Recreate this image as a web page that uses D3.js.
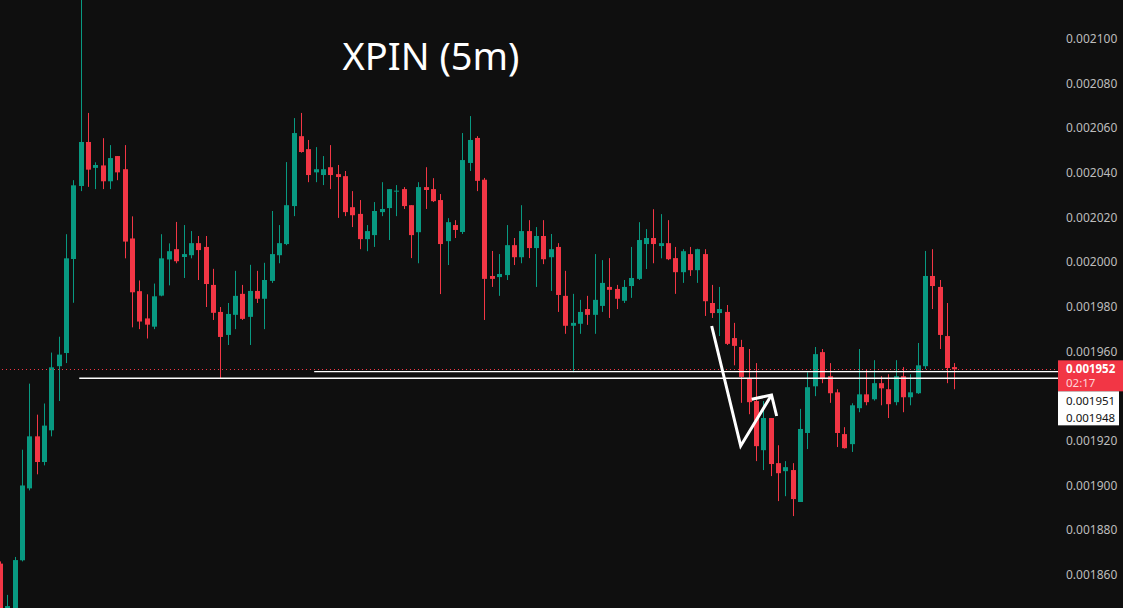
<!DOCTYPE html>
<html>
<head>
<meta charset="utf-8">
<script src="https://cdn.jsdelivr.net/npm/d3@7"></script>
<style>
  html, body { margin: 0; padding: 0; background: #0f0f0f; }
  svg { display: block; }
</style>
</head>
<body>
<svg id="chart" width="1123" height="608"></svg>
<script>
// ── XPIN 5m candles ─────────────────────────────────────────────────────
// prices kept in millionths (1952 → 0.001952)
const opens = [
  1865, 1840, 1843, 1866.5, 1898.7, 1922, 1910.5, 1924.7, 1953.4, 1959.3,
  2001.4, 2034.1, 2053.8, 2042.2, 2043.3, 2036.2, 2047.5, 2041.6, 2010.6, 1987,
  1974.8, 1971.1, 1985, 2001.2, 2005.8, 2002.3, 2003.1, 2008.5, 2006.8, 1989.8,
  1977.7, 1967.4, 1976.4, 1985.8, 1975.5, 1987.1, 1983.6, 1991.6, 2003.1, 2008.1,
  2025.1, 2056.4, 2050.6, 2040.2, 2039, 2042.5, 2039.4, 2038.5, 2024.6, 2021.6,
  2010.3, 2012.1, 2022.4, 2024.2, 2031.6, 2032.7, 2025.5, 2013.4, 2033.6, 2032.7,
  2027.8, 2009.4, 2016.6, 2013.5, 2044.4, 2055.6, 2036.9, 1993.8, 1993.3, 1994.2,
  2007.6, 2002.2, 2013.9, 2006.3, 2011.7, 2002.2, 2006.8, 1984.9, 1971.5, 1972.4,
  1979, 1976.4, 1980.4, 1988.9, 1988, 1982.7, 1989.3, 1992.5, 2008.1, 2010.8,
  2007.2, 2008.5, 2001.8, 1995.5, 2003.6, 1996.4, 2003.6, 1981.7, 1977.2, 1977.7,
  1966, 1962, 1948, 1937.8, 1915.8, 1930.2, 1910, 1906.4, 1906.9, 1892.6,
  1923.5, 1944.4, 1959.7, 1948.9, 1941.7, 1923, 1918.5, 1934.6, 1940.8, 1938.6,
  1945.8, 1943.1, 1937.3, 1948.9, 1939.5, 1941.3, 1953.4, 1993.8, 1988.9, 1966.9,
  1953
];
const highs = [
  1866, 1851, 1868, 1916, 1945.6, 1931.7, 1936.7, 1959.5, 1966.6, 2012.5,
  2036.7, 2118, 2066.8, 2044.7, 2055.5, 2052.4, 2047.5, 2052.4, 2020.5, 1991.8,
  1985.6, 1990.4, 2012.5, 2008.4, 2018, 2016.6, 2013.9, 2011.7, 2011.7, 1997,
  1979.9, 1981.7, 1996.1, 1989.8, 1998.8, 1996.1, 1999.7, 2022.9, 2016.6, 2044.8,
  2064.5, 2066.8, 2054.7, 2051.5, 2047.5, 2052.4, 2043.5, 2040.8, 2031.8, 2027.8,
  2016.6, 2026.9, 2035.8, 2032.7, 2034.5, 2033.6, 2025.5, 2035.8, 2042.5, 2037.6,
  2030.5, 2019.7, 2018.8, 2057.8, 2065.4, 2056.4, 2037.7, 2005, 2003.6, 2016.6,
  2010.8, 2025.5, 2018.8, 2015.7, 2018.8, 2012.6, 2008.5, 1996.1, 1985.8, 1983.1,
  1984.9, 2003.6, 2000.9, 2001.8, 1989.8, 1992, 2006.8, 2017.9, 2014.8, 2023.7,
  2021.5, 2018.8, 2006.8, 2005.8, 2006.8, 2006, 2005.8, 1989.8, 1988.9, 1980.8,
  1972.8, 1965.2, 1961.1, 1954.8, 1937.8, 1930.2, 1918, 1910.9, 1910, 1934.3,
  1950.7, 1962, 1961.1, 1954.8, 1943.1, 1926.1, 1936.8, 1961.1, 1952.1, 1956.1,
  1948.9, 1949.8, 1956.1, 1953, 1949.8, 1963.8, 2005, 2005.8, 1992, 1981.7,
  1954.8
];
const lows = [
  1835, 1836, 1841, 1866, 1897.8, 1905, 1909, 1922, 1937.8, 1954.8,
  1981.8, 2031.8, 2033.7, 2032.7, 2032.7, 2032.7, 2036.7, 2001.7, 1970.8, 1970,
  1965.8, 1970, 1984.7, 1989.6, 1999.5, 1992.9, 2001.7, 1992, 1979.9, 1974.1,
  1948, 1962.9, 1970, 1974.1, 1962.9, 1981.7, 1970, 1990.7, 1999.5, 2007.6,
  2020.6, 2049, 2035.8, 2035.8, 2034.5, 2032.7, 2019.8, 2020.6, 2015.7, 2005.8,
  2004.9, 2006.8, 2020.6, 2009.9, 2020.6, 2023.8, 2001.8, 1999.5, 2023.8, 2026.9,
  1985.7, 1998.7, 2010.8, 2012.6, 2040.8, 2031.8, 1974.1, 1988.9, 1984.9, 1992,
  1998.7, 1999.5, 2001.8, 1988.9, 1999.1, 1987.1, 1977.7, 1967.9, 1950.7, 1967.9,
  1971.9, 1967.9, 1977.7, 1975, 1979, 1981.7, 1984, 1992, 1996.9, 1999.5,
  2001.7, 2000.9, 1985.8, 1990.7, 1993.8, 1990.7, 1975.9, 1975, 1966.9, 1962.9,
  1953.8, 1937, 1931.9, 1910.9, 1906.9, 1904.2, 1893, 1895.2, 1886.3, 1892.6,
  1916.3, 1940, 1945.8, 1937, 1917.2, 1916.5, 1915, 1932.8, 1935.9, 1938,
  1935.9, 1930.2, 1935.9, 1932.8, 1935.9, 1941, 1952.1, 1979, 1961.1, 1945.8,
  1943.1
];
const closes = [
  1838, 1846, 1866.6, 1900, 1922, 1910.5, 1926.8, 1952.9, 1958.6, 2001.7,
  2034.4, 2053.8, 2041.4, 2043.5, 2036.2, 2046.6, 2040.2, 2009.2, 1986.5, 1973.4,
  1972, 1984.7, 2001.7, 2004.9, 2000.4, 2003.6, 2008.5, 2005.4, 1990.2, 1977.3,
  1966.5, 1976.8, 1984.9, 1974.6, 1987.1, 1983.6, 1992, 2003.6, 2008.5, 2025.5,
  2057.8, 2049.3, 2039, 2041.6, 2041.6, 2039, 2038.1, 2022.4, 2021, 2010.3,
  2013.9, 2022.9, 2023.8, 2032.7, 2032, 2025.1, 2012.1, 2033.6, 2032.3, 2027.3,
  2008.1, 2017.9, 2014.4, 2045.7, 2054.7, 2036.4, 1992.5, 1992.5, 1994.7, 2007.6,
  2002.2, 2013.9, 2006.3, 2011.7, 2001.3, 2005.8, 1985.3, 1971.5, 1972.8, 1977.7,
  1976.4, 1983.1, 1990.7, 1987.6, 1983.6, 1988.9, 1992.9, 2009.9, 2010.8, 2008.1,
  2008.5, 2001.3, 1995.5, 2004.9, 1996.4, 2005.8, 1982.5, 1977.2, 1979, 1963.4,
  1962.5, 1948.6, 1937.3, 1917.6, 1930.2, 1909.6, 1905.5, 1908.2, 1893.9, 1925.3,
  1944, 1958.8, 1947.6, 1941.3, 1923.5, 1916.7, 1935.9, 1940.8, 1937.3, 1945.8,
  1943.5, 1936.4, 1948.9, 1939.5, 1941.7, 1953.8, 1993.8, 1989.3, 1967.4, 1952.6,
  1952
];

const priceTicks = [2100, 2080, 2060, 2040, 2020, 2000, 1980, 1960, 1920, 1900, 1880, 1860];

// horizontal levels drawn on the chart: [price, first bar index]
const levels = [[1951, 42.8], [1948, 10.8]];
const lastPrice = 1952;
const countdown = '02:17';

// hand-drawn arrow, [bar index, price]
const arrowPath = [[96.95, 1971.4], [100.9, 1917.7], [105.1, 1940.5]];
const arrowHead = [[102.4, 1938.6], [105.1, 1940.5], [105.8, 1931.1]];

const title = 'XPIN (5m)';

// ── setup ───────────────────────────────────────────────────────────────
const W = 1123, H = 608;
const AXIS_X = 1058;
const UP = '#089981', DOWN = '#f23645';
const fmt = v => (v / 1e6).toFixed(6);
const FONT = '"Noto Sans", sans-serif';

const svg = d3.select('#chart');
svg.append('rect').attr('width', W).attr('height', H).attr('fill', '#0f0f0f');

const x = d3.scaleLinear().domain([0, 130]).range([0, 954.3]);
const y = d3.scaleLinear().domain([1860, 2100]).range([574.8, 38.8]);

const bars = opens.map((o, i) => ({ i, o, h: highs[i], l: lows[i], c: closes[i] }));

const plot = svg.append('g');

// title
plot.append('text')
  .attr('x', 431).attr('y', 70)
  .attr('text-anchor', 'middle')
  .attr('font-family', '"Noto Sans", "Open Sans", sans-serif')
  .attr('font-size', 38)
  .attr('fill', '#ffffff')
  .text(title);

// candles
const candle = plot.selectAll('g.candle')
  .data(bars)
  .join('g')
    .attr('class', 'candle')
    .attr('fill', d => d.c >= d.o ? UP : DOWN)
    .attr('stroke', d => d.c >= d.o ? UP : DOWN);

candle.append('line')
  .attr('x1', d => Math.round(x(d.i)) + 0.5)
  .attr('x2', d => Math.round(x(d.i)) + 0.5)
  .attr('y1', d => y(d.h))
  .attr('y2', d => y(d.l))
  .attr('stroke-width', 1);

candle.append('rect')
  .attr('stroke', 'none')
  .attr('x', d => Math.round(x(d.i)) - 2)
  .attr('width', 5)
  .attr('y', d => y(Math.max(d.o, d.c)))
  .attr('height', d => Math.max(1, y(Math.min(d.o, d.c)) - y(Math.max(d.o, d.c))));

// last price dotted line
plot.append('line')
  .attr('x1', 2).attr('x2', AXIS_X)
  .attr('y1', Math.round(y(lastPrice)) + 0.5).attr('y2', Math.round(y(lastPrice)) + 0.5)
  .attr('stroke', DOWN)
  .attr('stroke-width', 1)
  .attr('stroke-dasharray', '1,3');

// white horizontal levels
plot.selectAll('line.level')
  .data(levels)
  .join('line')
    .attr('class', 'level')
    .attr('x1', d => x(d[1])).attr('x2', AXIS_X)
    .attr('y1', d => y(d[0])).attr('y2', d => y(d[0]))
    .attr('stroke', '#ffffff')
    .attr('stroke-width', 1.3);

// arrow annotation
const ln = d3.line().x(d => x(d[0])).y(d => y(d[1]));
[arrowPath, arrowHead].forEach(pts => {
  plot.append('path')
    .attr('d', ln(pts))
    .attr('fill', 'none').attr('stroke', '#ffffff')
    .attr('stroke-width', 3).attr('stroke-linejoin', 'miter');
});

// ── price axis ──────────────────────────────────────────────────────────
const axisG = svg.append('g').attr('transform', `translate(${AXIS_X},0)`);
axisG.append('rect').attr('width', W - AXIS_X).attr('height', H).attr('fill', '#0f0f0f');

const axis = d3.axisRight(y).tickValues(priceTicks).tickSize(0).tickPadding(8).tickFormat(fmt);
axisG.call(axis)
  .call(g => g.select('.domain').remove())
  .call(g => g.selectAll('text')
    .attr('fill', '#bdbdbd')
    .attr('font-family', FONT)
    .attr('font-size', 12));

// price labels
const yLast = y(lastPrice);
axisG.append('rect')
  .attr('x', 0).attr('y', yLast - 9).attr('width', W - AXIS_X).attr('height', 31)
  .attr('fill', DOWN);
axisG.append('text')
  .attr('x', 8).attr('y', yLast + 3.5)
  .attr('font-family', FONT).attr('font-size', 11.5).attr('font-weight', 700)
  .attr('fill', '#ffffff').text(fmt(lastPrice));
axisG.append('text')
  .attr('x', 8).attr('y', yLast + 18)
  .attr('font-family', FONT).attr('font-size', 11.5)
  .attr('fill', '#ffd6da').text(countdown);

axisG.append('rect')
  .attr('x', 0).attr('y', yLast + 22).attr('width', 61).attr('height', 34)
  .attr('fill', '#ffffff');
axisG.selectAll('text.lvl')
  .data(levels)
  .join('text')
    .attr('class', 'lvl')
    .attr('x', 8)
    .attr('y', (d, k) => yLast + 35.5 + k * 17)
    .attr('font-family', FONT).attr('font-size', 11.5)
    .attr('fill', '#131313')
    .text(d => fmt(d[0]));
</script>
</body>
</html>
